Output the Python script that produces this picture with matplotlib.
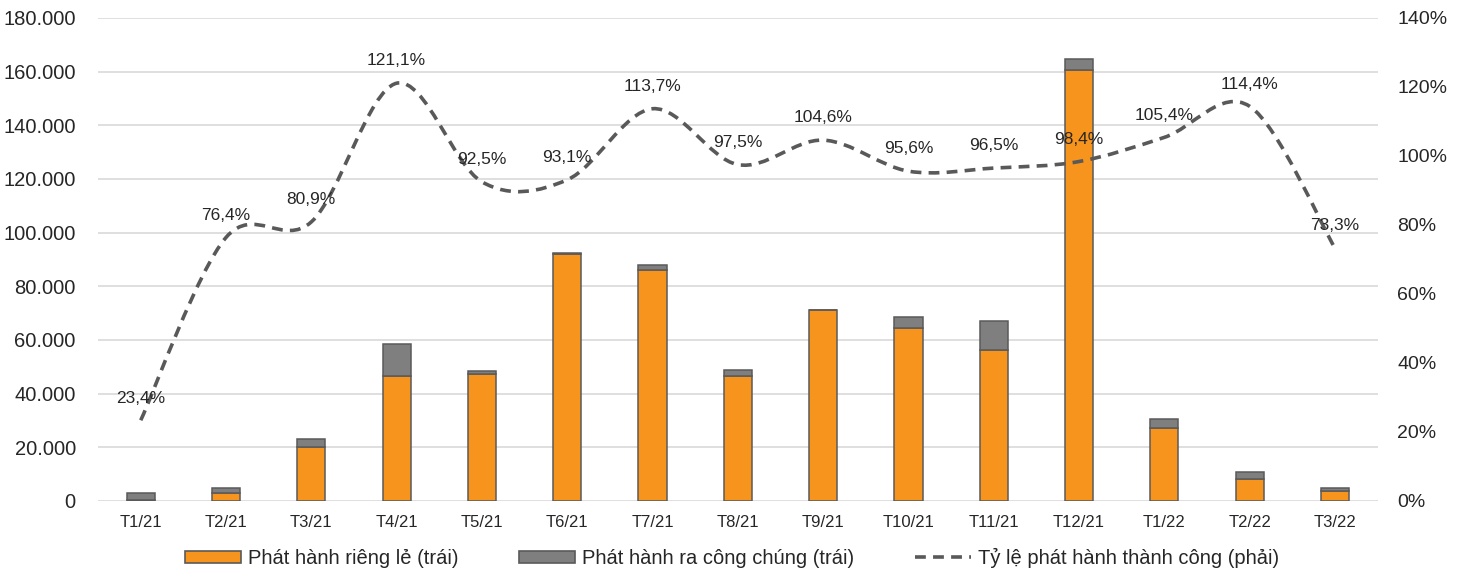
import matplotlib.pyplot as plt
import numpy as np
from matplotlib.path import Path
from matplotlib.patches import PathPatch
from matplotlib.lines import Line2D
from matplotlib.patches import Patch

plt.rcParams['font.family'] = ['Liberation Sans', 'DejaVu Sans']

months = ['T1/21', 'T2/21', 'T3/21', 'T4/21', 'T5/21', 'T6/21', 'T7/21', 'T8/21',
          'T9/21', 'T10/21', 'T11/21', 'T12/21', 'T1/22', 'T2/22', 'T3/22']
rieng_le = [300, 3100, 20000, 46600, 47500, 92000, 86000, 46500,
            71200, 64500, 56300, 160600, 27300, 8100, 3700]      # private placement
cong_chung = [2600, 1900, 3000, 11900, 1000, 300, 2000, 2200,
              0, 4000, 10800, 4100, 3100, 2800, 1000]           # public offering
ty_le = [23.4, 76.4, 80.9, 121.1, 92.5, 93.1, 113.7, 97.5,
         104.6, 95.6, 96.5, 98.4, 105.4, 114.4, 73.3]          # success rate %

ORANGE = '#F7941D'
GREY = '#7F7F7F'
EDGE = '#5A5A5A'
LINE = '#595959'
TXT = '#262626'

fig = plt.figure(figsize=(14.64, 5.75), dpi=100)
ax = fig.add_axes([0.067, 0.1287, 0.874, 0.84])
ax2 = ax.twinx()

x = np.arange(len(months))
ax.bar(x, rieng_le, width=0.33, color=ORANGE, edgecolor=EDGE, linewidth=1.1, zorder=3)
ax.bar(x, cong_chung, width=0.33, bottom=rieng_le, color=GREY, edgecolor=EDGE,
       linewidth=1.1, zorder=3)

ax.set_xlim(-0.5, len(months) - 0.5)
ax.set_ylim(0, 180000)
ax.set_yticks(np.arange(0, 180001, 20000))
ax.set_yticklabels([f'{v:,.0f}'.replace(',', '.') for v in np.arange(0, 180001, 20000)])
ax.set_xticks(x)
ax.set_xticklabels(months)
ax.grid(axis='y', color='#D9D9D9', linewidth=1.2, zorder=0)
ax.set_axisbelow(True)
for s in ax.spines.values():
    s.set_visible(False)
for s in ax2.spines.values():
    s.set_visible(False)
ax.tick_params(axis='y', length=0, labelsize=14.5, colors=TXT, pad=16)
ax.tick_params(axis='x', length=0, labelsize=12, colors=TXT, pad=10)

ax2.set_ylim(0, 140)
ax2.set_yticks(np.arange(0, 141, 20))
ax2.set_yticklabels([f'{v}%' for v in range(0, 141, 20)])
ax2.tick_params(axis='y', length=0, labelsize=14, colors=TXT, pad=14)

# smoothed line (Catmull-Rom style cubic Bezier through the data points)
pts = np.column_stack([x, ty_le]).astype(float)
verts = [tuple(pts[0])]
codes = [Path.MOVETO]
n = len(pts)
for i in range(n - 1):
    p0 = pts[i - 1] if i > 0 else pts[i]
    p1 = pts[i]
    p2 = pts[i + 1]
    p3 = pts[i + 2] if i + 2 < n else pts[i + 1]
    c1 = p1 + (p2 - p0) / 6.0
    c2 = p2 - (p3 - p1) / 6.0
    verts += [tuple(c1), tuple(c2), tuple(p2)]
    codes += [Path.CURVE4] * 3
curve = PathPatch(Path(verts, codes), facecolor='none', edgecolor=LINE,
                  linewidth=2.6, linestyle=(0, (3, 2)), zorder=4)
ax2.add_patch(curve)

for xi, v in zip(x, ty_le):
    ax2.annotate(f'{v:.1f}%'.replace('.', ','), (xi, v), xytext=(0, 16),
                 textcoords='offset points', ha='center', va='center',
                 fontsize=12.5, color=TXT, zorder=5)

handles = [Patch(facecolor=ORANGE, edgecolor=EDGE, linewidth=1.2),
           Patch(facecolor=GREY, edgecolor=EDGE, linewidth=1.2),
           Line2D([0], [0], color=LINE, linewidth=2.6, linestyle=(0, (3, 2)))]
labels = ['Phát hành riêng lẻ (trái)', 'Phát hành ra công chúng (trái)',
          'Tỷ lệ phát hành thành công (phải)']
fig.legend(handles, labels, loc='center', bbox_to_anchor=(0.5, 0.03), ncol=3,
           frameon=False, fontsize=14.5, handlelength=2.8, handleheight=0.55,
           handletextpad=0.35, columnspacing=3.0, labelcolor=TXT)

fig.savefig('out.png', dpi=100)
